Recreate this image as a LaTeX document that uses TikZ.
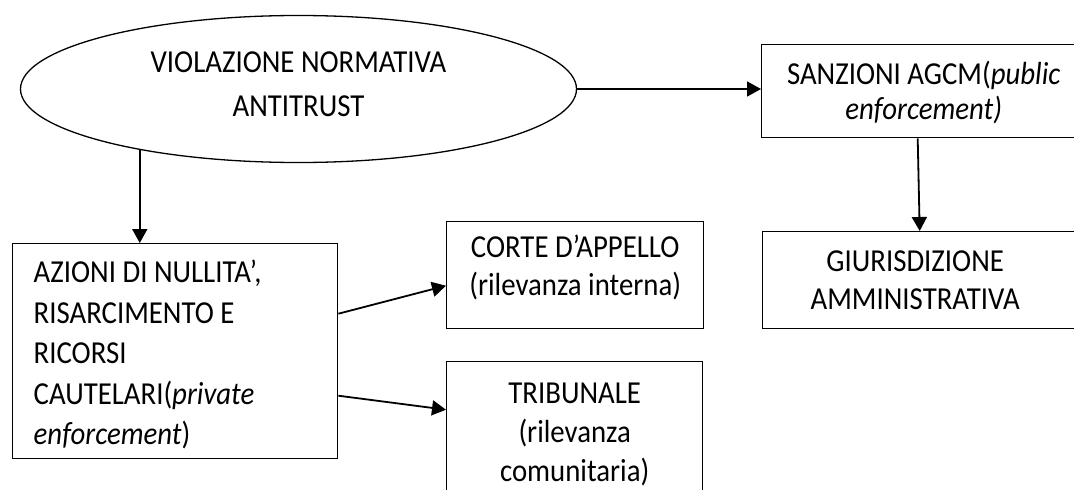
\documentclass[tikz,border=0pt]{standalone}
\usepackage{fontspec}
\setmainfont{Carlito}[FakeStretch=0.9]
\usetikzlibrary{shapes.geometric,arrows.meta}
\begin{document}
\begin{tikzpicture}[x=1pt,y=-1pt,
  frame/.style={draw, line width=1.4pt, inner sep=0pt, anchor=north west},
  conn/.style={line width=1.8pt, -{Triangle[length=14pt,width=15pt]}},
]
\useasboundingbox (0,0) rectangle (1074,490);
\clip (0,0) rectangle (1074,490);
\setlength{\parskip}{0pt}
\node[draw, ellipse, line width=1.3pt, inner sep=0pt, minimum width=556pt, minimum height=147pt] (ell) at (298.5,89)
  {\parbox[t][88pt][t]{320pt}{\fontsize{32}{44}\selectfont\centering\rule{0pt}{27pt}VIOLAZIONE NORMATIVA\\ANTITRUST}};
\node[frame] (azioni) at (12,243)
  {\parbox[t][215pt][t]{325pt}{\fontsize{32}{40.5}\selectfont\raggedright\leftskip=21pt\rule{0pt}{39pt}AZIONI DI NULLITA’,\\RISARCIMENTO E\\RICORSI\\CAUTELARI(\textit{private}\\\textit{enforcement})}};
\node[frame] (corte) at (446,221)
  {\parbox[t][107pt][t]{257pt}{\fontsize{32}{38}\selectfont\centering\rule{0pt}{36pt}CORTE D’APPELLO\\(rilevanza interna)}};
\node[frame] (trib) at (446,361)
  {\parbox[t][160pt][t]{256pt}{\fontsize{32}{39}\selectfont\centering\rule{0pt}{42pt}TRIBUNALE\\(rilevanza\\comunitaria)}};
\node[frame] (sanz) at (761,44)
  {\parbox[t][93pt][t]{329pt}{\fontsize{32}{35}\selectfont\centering\rightskip=5pt plus 1fil\rule{0pt}{40pt}SANZIONI AGCM(\textit{public}\\\textit{enforcement)}}};
\node[frame] (giuri) at (762,231)
  {\parbox[t][97pt][t]{328pt}{\fontsize{32}{38}\selectfont\centering\rightskip=23pt plus 1fil\rule{0pt}{40pt}GIURISDIZIONE\\AMMINISTRATIVA}};
\draw[conn] (ell.east) -- (ell.east -| sanz.west);
\draw[conn] (ell.201.3) -- (ell.201.3 |- azioni.north);
\draw[conn] ([xshift=-8.5pt]sanz.south) -- ([xshift=-7pt]giuri.north);
\draw[conn] ([yshift=37.5pt]azioni.east) -- ([yshift=-10.5pt]corte.west);
\draw[conn] ([yshift=-44.5pt]azioni.east) -- ([yshift=32pt]trib.west);
\end{tikzpicture}
\end{document}
